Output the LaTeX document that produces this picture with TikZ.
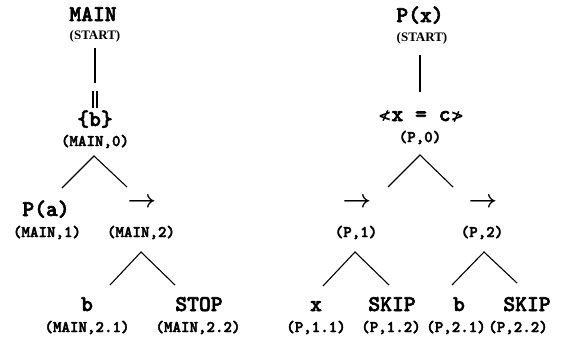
\documentclass[tikz,border=0pt]{standalone}
\usepackage{fontspec}
\newfontfamily\serifb{Liberation Serif}
\newfontfamily\symf{DejaVu Sans}
\newfontfamily\cour[FakeBold=2.5]{lmmonolt10-bold.otf}
\begin{document}
\begin{tikzpicture}[x=1pt,y=-1pt,
  big/.style={font=\fontsize{22.5}{22}\selectfont\cour, anchor=base, inner sep=0pt},
  lab/.style={font=\fontsize{16.2}{16}\selectfont\cour, anchor=base, inner sep=0pt},
  startlab/.style={font=\fontsize{13}{13}\selectfont\serifb\bfseries, anchor=base, inner sep=0pt},
  arr/.style={font=\fontsize{30}{30}\selectfont\boldmath, anchor=center, inner sep=0pt},
  edge/.style={line width=1.1pt}]
\useasboundingbox (0,0) rectangle (569,343);
% ---------- left tree ----------
\node[big] (main) at (93,21) {MAIN};
\node[startlab] (mainst) at (95,39) {(START)};
\coordinate (lt) at (95,48);
\coordinate (lb) at (95,83);
\draw[edge] (lt) -- (lb);
\node[anchor=center, inner sep=0pt] (par) at (95,99.5) {\rule{1.3pt}{17pt}\hspace{2.6pt}\rule{1.3pt}{17pt}};
\node[big] (bset) at (95,126) {\{b\}};
\node[lab] (m0) at (95,146) {(MAIN,0)};
\coordinate (a0) at (94,156);
\coordinate (a0l) at (62,188);
\coordinate (a0r) at (127,187);
\draw[edge] (a0l) -- (a0) -- (a0r);
\node[big] (pa) at (46,216) {P(a)};
\node[lab] (m1) at (47,237) {(MAIN,1)};
\node[arr] (ar1) at (142,203) {$\rightarrow$};
\node[lab] (m2) at (141,237) {(MAIN,2)};
\coordinate (a2) at (141,252);
\coordinate (a2l) at (110,285);
\coordinate (a2r) at (175,285);
\draw[edge] (a2l) -- (a2) -- (a2r);
\node[big] (b1) at (87,311) {b};
\node[big] (stop) at (199,311) {STOP};
\node[lab] (m21) at (87,332) {(MAIN,2.1)};
\node[lab] (m22) at (198,332) {(MAIN,2.2)};
% ---------- right tree ----------
\node[big] (px) at (420,22) {P(x)};
\node[startlab] (pxst) at (422,41) {(START)};
\coordinate (rt) at (420,55);
\coordinate (rb) at (420,92);
\draw[edge] (rt) -- (rb);
\node[big] (guard) at (421,121) {{\symf\bfseries\fontsize{16}{16}\selectfont ≮}x = c{\symf\bfseries\fontsize{16}{16}\selectfont ≯}};
\node[lab] (p0) at (420,142) {(P,0)};
\coordinate (b0) at (420,155);
\coordinate (b0l) at (388,187);
\coordinate (b0r) at (453,187);
\draw[edge] (b0l) -- (b0) -- (b0r);
\node[arr] (ar2) at (357,203) {$\rightarrow$};
\node[arr] (ar3) at (483,203) {$\rightarrow$};
\node[lab] (p1) at (356,237) {(P,1)};
\node[lab] (p2) at (482,237) {(P,2)};
\coordinate (b1a) at (355,252);
\coordinate (b1l) at (323,286);
\coordinate (b1r) at (389,285);
\draw[edge] (b1l) -- (b1a) -- (b1r);
\coordinate (b2a) at (484,252);
\coordinate (b2l) at (452,285);
\coordinate (b2r) at (517,283);
\draw[edge] (b2l) -- (b2a) -- (b2r);
\node[big] (xx) at (316,311) {x};
\node[big] (skip1) at (392,311) {SKIP};
\node[big] (b2) at (459,311) {b};
\node[big] (skip2) at (527,311) {SKIP};
\node[lab] (p11) at (316,332) {(P,1.1)};
\node[lab] (p12) at (391,332) {(P,1.2)};
\node[lab] (p21) at (456,332) {(P,2.1)};
\node[lab] (p22) at (518,332) {(P,2.2)};
\end{tikzpicture}
\end{document}
